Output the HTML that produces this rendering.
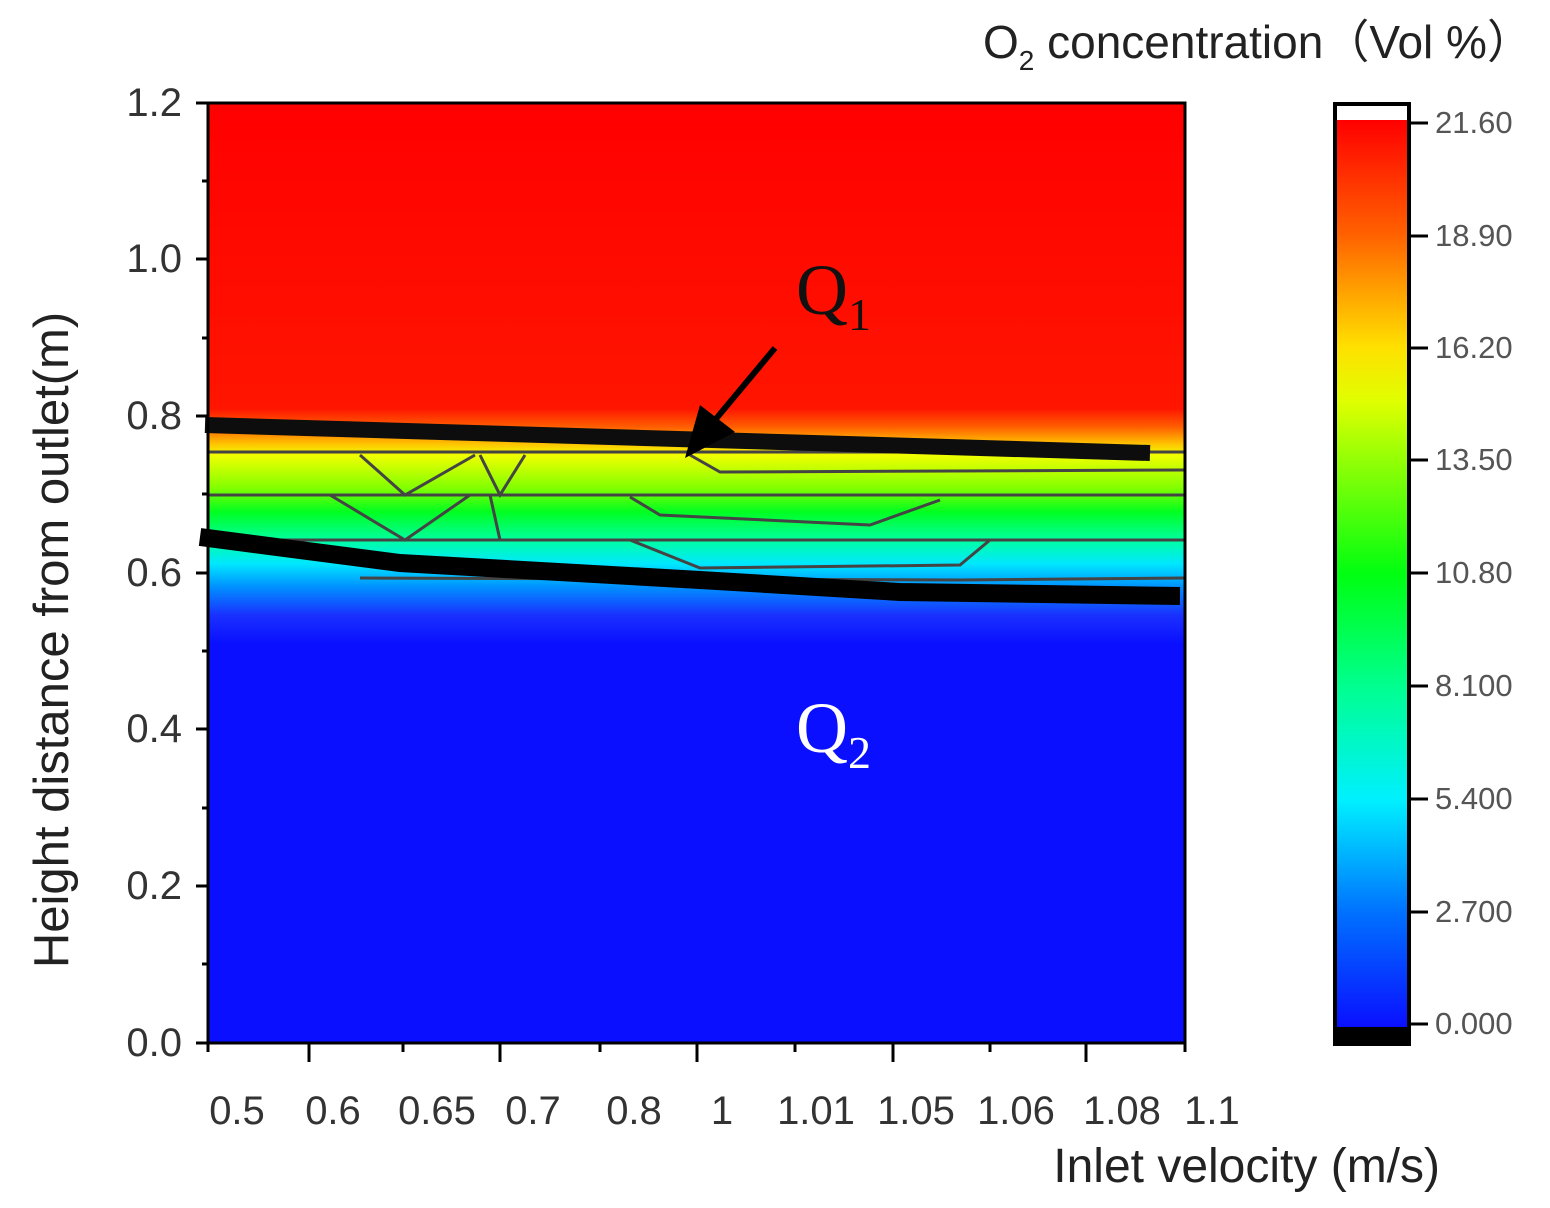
<!DOCTYPE html>
<html><head><meta charset="utf-8"><style>
html,body{margin:0;padding:0;background:#fff}
svg{display:block}
text{font-family:"Liberation Sans",sans-serif}
</style></head><body>
<svg width="1550" height="1208" viewBox="0 0 1550 1208" xmlns="http://www.w3.org/2000/svg">
<defs>
<linearGradient id="pg" x1="0" y1="103" x2="0" y2="1043" gradientUnits="userSpaceOnUse">
<stop offset="0" stop-color="#ff0000"/>
<stop offset="0.325" stop-color="#ff1500"/>
<stop offset="0.345" stop-color="#ff6000"/>
<stop offset="0.362" stop-color="#ffc000"/>
<stop offset="0.375" stop-color="#f0ff00"/>
<stop offset="0.41" stop-color="#80ff00"/>
<stop offset="0.435" stop-color="#00ff20"/>
<stop offset="0.465" stop-color="#00ffa0"/>
<stop offset="0.49" stop-color="#00e8ff"/>
<stop offset="0.515" stop-color="#0090ff"/>
<stop offset="0.545" stop-color="#1a30ff"/>
<stop offset="0.575" stop-color="#0a10ff"/>
<stop offset="1" stop-color="#0a10ff"/>
</linearGradient>
<linearGradient id="cg" x1="0" y1="120" x2="0" y2="1027" gradientUnits="userSpaceOnUse">
<stop offset="0" stop-color="#ff0000"/>
<stop offset="0.125" stop-color="#ff6000"/>
<stop offset="0.25" stop-color="#ffe000"/>
<stop offset="0.31" stop-color="#e0ff00"/>
<stop offset="0.5" stop-color="#00ff10"/>
<stop offset="0.625" stop-color="#00ff90"/>
<stop offset="0.75" stop-color="#00f0ff"/>
<stop offset="0.875" stop-color="#0070ff"/>
<stop offset="1" stop-color="#0a10ff"/>
</linearGradient>
</defs>
<rect x="208" y="103" width="977" height="940" fill="url(#pg)"/>
<g stroke="#444" stroke-width="3" fill="none">
<polyline points="208,452 1185,452"/>
<polyline points="208,495 1185,495"/>
<polyline points="208,540 1185,540"/>
<polyline points="360,578 960,580 1185,578"/>
<polyline points="360,455 405,495 475,455"/>
<polyline points="480,455 500,495 525,455"/>
<polyline points="330,495 405,540 470,495"/>
<polyline points="490,495 500,540"/>
<polyline points="630,497 660,515 870,525 940,500"/>
<polyline points="630,540 700,568 960,565 990,540"/>
<polyline points="690,455 720,472 1185,470"/>
</g>
<polyline points="205,425 1150,453" stroke="#0d0d0d" stroke-width="16" fill="none"/>
<polyline points="200,537 400,563 700,580 900,592 1180,596" stroke="#000" stroke-width="18" fill="none"/>
<line x1="775" y1="348" x2="715" y2="420" stroke="#000" stroke-width="6"/>
<polygon points="685,458 700,405 735,432" fill="#000"/>
<rect x="208" y="103" width="977" height="940" fill="none" stroke="#000" stroke-width="3"/>
<text x="796" y="314" style="font-family:'Liberation Serif',serif;fill:#111" font-size="72">Q<tspan font-size="46" dy="16">1</tspan></text>
<text x="796" y="752" style="font-family:'Liberation Serif',serif;fill:#fff" font-size="72">Q<tspan font-size="46" dy="16">2</tspan></text>
<g stroke="#000" stroke-width="3">
<line x1="196" y1="103" x2="208" y2="103"/><line x1="196" y1="259" x2="208" y2="259"/>
<line x1="196" y1="416" x2="208" y2="416"/><line x1="196" y1="573" x2="208" y2="573"/>
<line x1="196" y1="729" x2="208" y2="729"/><line x1="196" y1="886" x2="208" y2="886"/>
<line x1="196" y1="1043" x2="208" y2="1043"/>
<line x1="202" y1="181" x2="208" y2="181"/><line x1="202" y1="338" x2="208" y2="338"/>
<line x1="202" y1="494" x2="208" y2="494"/><line x1="202" y1="651" x2="208" y2="651"/>
<line x1="202" y1="808" x2="208" y2="808"/><line x1="202" y1="964" x2="208" y2="964"/>
<line x1="208" y1="1043" x2="208" y2="1052"/><line x1="309" y1="1043" x2="309" y2="1062"/>
<line x1="403" y1="1043" x2="403" y2="1052"/><line x1="500" y1="1043" x2="500" y2="1062"/>
<line x1="600" y1="1043" x2="600" y2="1052"/><line x1="697" y1="1043" x2="697" y2="1062"/>
<line x1="795" y1="1043" x2="795" y2="1052"/><line x1="893" y1="1043" x2="893" y2="1062"/>
<line x1="990" y1="1043" x2="990" y2="1052"/><line x1="1086" y1="1043" x2="1086" y2="1062"/>
<line x1="1185" y1="1043" x2="1185" y2="1052"/>
</g>
<g font-size="40" text-anchor="end" style="fill:#333">
<text x="182" y="116">1.2</text><text x="182" y="272">1.0</text><text x="182" y="429">0.8</text>
<text x="182" y="586">0.6</text><text x="182" y="742">0.4</text><text x="182" y="899">0.2</text>
<text x="182" y="1056">0.0</text>
</g>
<g font-size="40" text-anchor="middle" style="fill:#333">
<text x="237" y="1124">0.5</text><text x="333" y="1124">0.6</text><text x="437" y="1124">0.65</text>
<text x="533" y="1124">0.7</text><text x="634" y="1124">0.8</text><text x="722" y="1124">1</text>
<text x="816" y="1124">1.01</text><text x="916" y="1124">1.05</text><text x="1016" y="1124">1.06</text>
<text x="1122" y="1124">1.08</text><text x="1212" y="1124">1.1</text>
</g>
<text x="1440" y="1182" font-size="48" text-anchor="end" style="fill:#222">Inlet velocity (m/s)</text>
<text transform="translate(68,640) rotate(-90)" font-size="49" text-anchor="middle" style="fill:#222">Height distance from outlet(m)</text>
<text x="983" y="58" font-size="46" style="fill:#222">O<tspan font-size="28" dy="12">2</tspan><tspan dy="-12"> concentration（Vol %）</tspan></text>
<rect x="1335" y="105" width="74" height="15" fill="#fff"/>
<rect x="1335" y="120" width="74" height="907" fill="url(#cg)"/>
<rect x="1335" y="1027" width="74" height="18" fill="#000"/>
<rect x="1335" y="104" width="74" height="940" fill="none" stroke="#000" stroke-width="4"/>
<g stroke="#000" stroke-width="3">
<line x1="1410" y1="123" x2="1428" y2="123"/><line x1="1410" y1="236" x2="1428" y2="236"/>
<line x1="1410" y1="348" x2="1428" y2="348"/><line x1="1410" y1="460" x2="1428" y2="460"/>
<line x1="1410" y1="573" x2="1428" y2="573"/><line x1="1410" y1="686" x2="1428" y2="686"/>
<line x1="1410" y1="799" x2="1428" y2="799"/><line x1="1410" y1="912" x2="1428" y2="912"/>
<line x1="1410" y1="1024" x2="1428" y2="1024"/>
</g>
<g font-size="31" style="fill:#555">
<text x="1435" y="133">21.60</text><text x="1435" y="246">18.90</text><text x="1435" y="358">16.20</text>
<text x="1435" y="470">13.50</text><text x="1435" y="583">10.80</text><text x="1435" y="696">8.100</text>
<text x="1435" y="809">5.400</text><text x="1435" y="922">2.700</text><text x="1435" y="1034">0.000</text>
</g>
</svg>
</body></html>
